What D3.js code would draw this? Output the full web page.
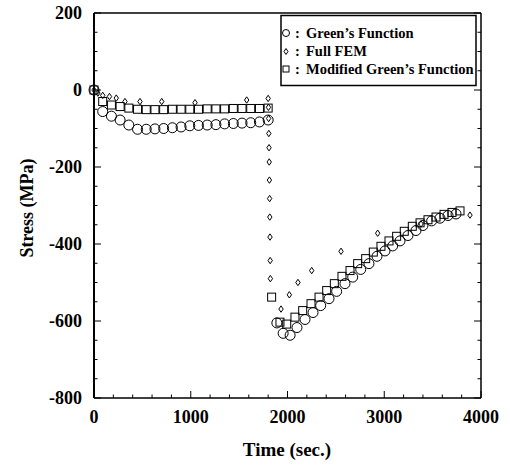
<!DOCTYPE html>
<html><head><meta charset="utf-8">
<script src="https://cdn.jsdelivr.net/npm/d3@7"></script>
<style>html,body{margin:0;padding:0;background:#fff}svg{display:block}</style>
</head><body>
<svg id="c" width="510" height="466"></svg>
<script>
// Green's Function (circles)
const greenT = [0,90,180,270,360,450,540,630,720,810,900,990,1080,1170,1260,1350,1440,1530,1620,1710,1800,
  1890,1955,2027,2098,2181,2264,2343,2429,2508,2594,2674,2757,2842,2925,3008,3087,3163,3245,3328,3400,3490,3576,3659,3742];
const greenV = [0,-56,-68,-78,-91,-102,-102,-101,-100,-98,-96,-93,-92,-91,-90,-88,-87,-86,-85,-83,-78,
  -605,-632,-637,-617,-596,-578,-560,-542,-523,-503,-486,-466,-451,-432,-418,-405,-392,-378,-365,-352,-340,-333,-326,-322];
// Full FEM (diamonds)
const femT = [0,40,90,160,230,320,475,700,1044,1578,1800,1803,1805,1807,1809,1811,1813,1815,1817,1819,1821,1823,
  1933,2019,2108,2250,2553,2932,3380,3886];
const femV = [0,-8,-14,-17,-21,-30,-30,-30,-33,-26,-22,-45,-74,-113,-150,-187,-234,-282,-330,-382,-443,-490,
  -569,-532,-500,-469,-419,-372,-348,-325];
// Modified Green's Function (squares)
const modT = [0,90,180,270,360,450,540,630,720,810,900,990,1080,1170,1260,1350,1440,1530,1620,1710,1800,
  1836,1922,1992,2077,2157,2243,2326,2405,2484,2563,2646,2725,2808,2887,2966,3049,3128,3207,3290,3370,3452,3535,3618,3700,3783];
const modV = [0,-30,-39,-43,-47,-50,-51,-51,-51,-50,-50,-50,-50,-49,-49,-49,-48,-48,-48,-48,-47,
  -538,-603,-608,-590,-573,-555,-538,-521,-503,-484,-469,-451,-438,-421,-406,-392,-380,-367,-354,-345,-337,-330,-323,-318,-314];

const xTicks = [0,1000,2000,3000,4000];
const yTicks = [200,0,-200,-400,-600,-800];
const legendLabels = ["Green\u2019s Function","Full FEM","Modified Green\u2019s Function"];
const xTitle = "Time (sec.)";
const yTitle = "Stress (MPa)";

const svg = d3.select("#c");
const L = 94, R = 481, T = 13, B = 398;
const x = d3.scaleLinear().domain([0,4000]).range([L,R]);
const y = d3.scaleLinear().domain([-800,200]).range([B,T]);
const font = "'Liberation Serif','Times New Roman',serif";

// frame
const g = svg.append("g");
g.append("line").attr("x1",L).attr("x2",R).attr("y1",T).attr("y2",T).attr("stroke","#000").attr("stroke-width",1.5);
g.append("line").attr("x1",R).attr("x2",R).attr("y1",T).attr("y2",B).attr("stroke","#000").attr("stroke-width",1.5);
g.append("line").attr("x1",L).attr("x2",R).attr("y1",B).attr("y2",B).attr("stroke","#000").attr("stroke-width",1.6);
g.append("line").attr("x1",L).attr("x2",L).attr("y1",T).attr("y2",B).attr("stroke","#000").attr("stroke-width",2);

// ticks (inward)
const xMinor = d3.range(0,4001,200), yMinor = d3.range(-800,201,50);
xMinor.forEach(v=>{
  const len = v%1000===0 ? 7 : 3.5;
  g.append("line").attr("x1",x(v)).attr("x2",x(v)).attr("y1",B).attr("y2",B-len).attr("stroke","#000").attr("stroke-width",1);
});
yMinor.forEach(v=>{
  const len = v%200===0 ? 7 : 3.5;
  g.append("line").attr("x1",L).attr("x2",L+len).attr("y1",y(v)).attr("y2",y(v)).attr("stroke","#000").attr("stroke-width",1);
  g.append("line").attr("x1",R).attr("x2",R-len).attr("y1",y(v)).attr("y2",y(v)).attr("stroke","#000").attr("stroke-width",1);
});

// tick labels
g.selectAll(".xl").data(xTicks).enter().append("text")
  .attr("x",d=>x(d)).attr("y",423).attr("text-anchor","middle")
  .attr("font-family",font).attr("font-weight","bold").attr("font-size",18).text(d=>d);
g.selectAll(".yl").data(yTicks).enter().append("text")
  .attr("x",82).attr("y",d=>y(d)+6).attr("text-anchor","end")
  .attr("font-family",font).attr("font-weight","bold").attr("font-size",18).text(d=>d);

// titles
g.append("text").attr("x",287).attr("y",456).attr("text-anchor","middle")
  .attr("font-family",font).attr("font-weight","bold").attr("font-size",19).text(xTitle);
g.append("text").attr("transform","translate(33,208) rotate(-90)").attr("text-anchor","middle")
  .attr("font-family",font).attr("font-weight","bold").attr("font-size",18).text(yTitle);

// markers
const pts = (ts,vs)=>ts.map((t,i)=>({t,v:vs[i]}));
const m = svg.append("g").attr("fill","none").attr("stroke","#000").attr("stroke-width",1);
m.selectAll(".c").data(pts(greenT,greenV)).enter().append("circle")
  .attr("cx",d=>x(d.t)).attr("cy",d=>y(d.v)).attr("r",5);
m.selectAll(".s").data(pts(modT,modV)).enter().append("rect")
  .attr("x",d=>x(d.t)-4).attr("y",d=>y(d.v)-4).attr("width",8).attr("height",8);
const dia = (cx,cy,w,h)=>`M${cx},${cy-h}L${cx+w},${cy}L${cx},${cy+h}L${cx-w},${cy}Z`;
m.selectAll(".d").data(pts(femT,femV)).enter().append("path")
  .attr("d",d=>dia(x(d.t),y(d.v),2.2,3.2));

// legend
const lg = svg.append("g");
lg.append("rect").attr("x",281).attr("y",15.5).attr("width",195).attr("height",70)
  .attr("fill","#fff").attr("stroke","#000").attr("stroke-width",1.5);
const rows = [37.5,55.5,73.5];
lg.append("circle").attr("cx",286).attr("cy",rows[0]-4.5).attr("r",3.5).attr("fill","none").attr("stroke","#000").attr("stroke-width",1);
lg.append("path").attr("d",dia(286,rows[1]-4,2,3)).attr("fill","none").attr("stroke","#000").attr("stroke-width",1);
lg.append("rect").attr("x",283).attr("y",rows[2]-7.5).attr("width",6).attr("height",6).attr("fill","none").attr("stroke","#000").attr("stroke-width",1);
legendLabels.forEach((t,i)=>{
  lg.append("text").attr("x",295).attr("y",rows[i]).attr("font-family",font).attr("font-weight","bold").attr("font-size",14.5).text(":");
  lg.append("text").attr("x",306).attr("y",rows[i]).attr("font-family",font).attr("font-weight","bold").attr("font-size",14.5).text(t);
});
</script>
</body></html>
